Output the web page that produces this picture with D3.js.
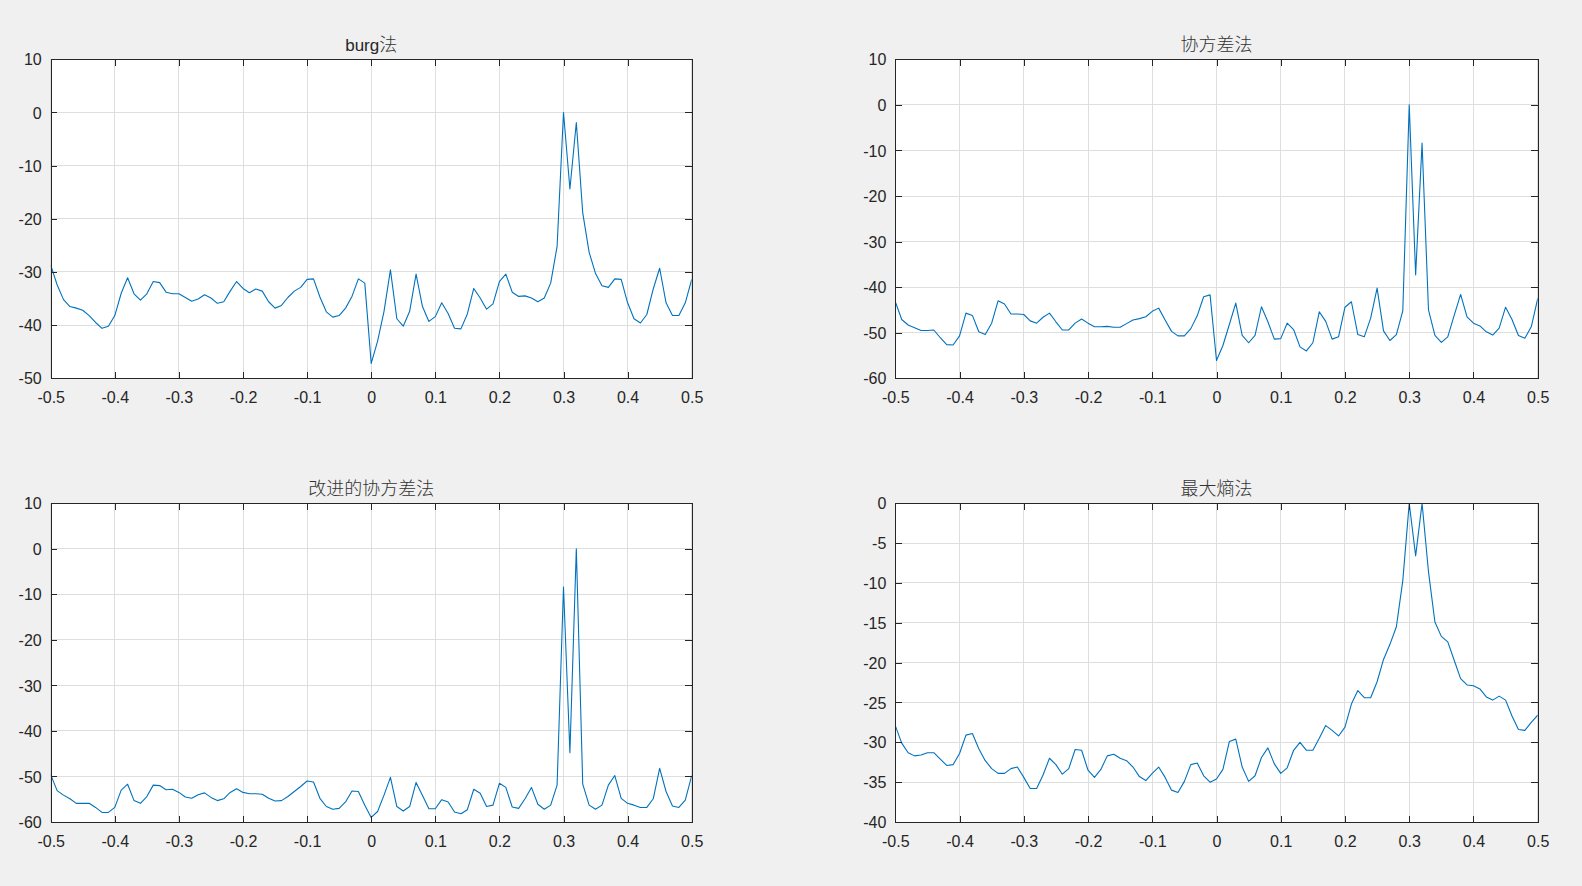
<!DOCTYPE html>
<html>
<head>
<meta charset="utf-8">
<script src="https://cdn.jsdelivr.net/npm/d3@7/dist/d3.min.js"></script>
<style>
html,body{margin:0;padding:0;background:#f0f0f0;}
svg{display:block;}
</style>
</head>
<body>
<svg id="chart" width="1582" height="886"></svg>
<script>
// ---------- data ----------
const freq = [-0.5,-0.49,-0.48,-0.47,-0.46,-0.45,-0.44,-0.43,-0.42,-0.41,
  -0.4,-0.39,-0.38,-0.37,-0.36,-0.35,-0.34,-0.33,-0.32,-0.31,
  -0.3,-0.29,-0.28,-0.27,-0.26,-0.25,-0.24,-0.23,-0.22,-0.21,
  -0.2,-0.19,-0.18,-0.17,-0.16,-0.15,-0.14,-0.13,-0.12,-0.11,
  -0.1,-0.09,-0.08,-0.07,-0.06,-0.05,-0.04,-0.03,-0.02,-0.01,
  0,0.01,0.02,0.03,0.04,0.05,0.06,0.07,0.08,0.09,
  0.1,0.11,0.12,0.13,0.14,0.15,0.16,0.17,0.18,0.19,
  0.2,0.21,0.22,0.23,0.24,0.25,0.26,0.27,0.28,0.29,
  0.3,0.31,0.32,0.33,0.34,0.35,0.36,0.37,0.38,0.39,
  0.4,0.41,0.42,0.43,0.44,0.45,0.46,0.47,0.48,0.49,0.5];

const burg = [-28.7,-32.4,-35.2,-36.5,-36.8,-37.2,-38.2,-39.5,-40.6,-40.2,
  -38.2,-34,-31.1,-34.1,-35.3,-34.1,-31.8,-32,-33.8,-34.1,
  -34.1,-34.8,-35.5,-35.1,-34.3,-34.9,-35.9,-35.6,-33.6,-31.8,
  -33.1,-33.9,-33.2,-33.6,-35.6,-36.8,-36.3,-34.8,-33.6,-32.9,
  -31.4,-31.3,-34.7,-37.5,-38.5,-38.2,-36.8,-34.6,-31.3,-32.1,
  -47.2,-43,-37.4,-29.6,-38.8,-40.2,-37.4,-30.4,-36.5,-39.3,
  -38.4,-35.8,-37.8,-40.6,-40.7,-37.9,-33.1,-34.9,-37,-36,
  -31.8,-30.4,-33.8,-34.6,-34.5,-34.9,-35.6,-34.9,-32.1,-25.2,
  0,-14.4,-1.9,-18.9,-26.3,-30.3,-32.6,-32.9,-31.3,-31.4,
  -35.8,-38.8,-39.6,-38,-33.2,-29.3,-35.8,-38.2,-38.2,-35.8,-31.4];

const cov = [-43.2,-47.1,-48.3,-48.9,-49.5,-49.5,-49.4,-51.1,-52.6,-52.7,
  -50.7,-45.7,-46.2,-49.8,-50.4,-47.9,-43,-43.7,-45.9,-45.9,
  -46,-47.4,-47.9,-46.6,-45.7,-47.6,-49.4,-49.4,-47.9,-47,
  -47.9,-48.7,-48.7,-48.6,-48.8,-48.8,-48,-47.2,-46.9,-46.5,
  -45.3,-44.6,-47.2,-49.7,-50.7,-50.7,-49.1,-46.3,-42.1,-41.7,
  -56.1,-52.8,-48.2,-43.5,-50.6,-52.2,-50.6,-44.3,-47.6,-51.4,
  -51.3,-47.9,-49.3,-53.1,-54,-52.2,-45.4,-47.5,-51.4,-50.9,
  -44.4,-43.2,-50.4,-50.9,-46.8,-40.2,-49.6,-51.7,-50.4,-45.2,
  0,-37.3,-8.4,-45,-50.6,-52.1,-50.9,-46.2,-41.6,-46.5,
  -47.9,-48.5,-49.8,-50.5,-49,-44.4,-47.1,-50.6,-51.2,-48.7,-42.5];

const mcov = [-49.6,-53.1,-54.1,-54.9,-55.9,-55.9,-55.9,-56.8,-57.9,-57.9,
  -56.8,-53,-51.7,-55.3,-55.9,-54.4,-51.9,-52,-52.9,-52.8,
  -53.5,-54.5,-54.8,-54,-53.6,-54.6,-55.3,-54.9,-53.5,-52.7,
  -53.5,-53.8,-53.8,-53.9,-54.8,-55.4,-55.3,-54.4,-53.3,-52.2,
  -51,-51.2,-54.8,-56.6,-57.2,-57,-55.6,-53.2,-53.3,-56.3,
  -59,-57.7,-54.1,-50.2,-56.6,-57.6,-56.6,-51.3,-54.2,-57.1,
  -57.1,-55.1,-55.6,-57.8,-58.2,-57.3,-52.8,-53.7,-56.6,-56.3,
  -51.5,-52.4,-56.7,-57,-54.9,-52.4,-56.1,-57.2,-56.3,-51.9,
  -8.4,-44.8,0,-51.7,-56.3,-57.2,-56.3,-51.9,-49.8,-54.8,
  -55.9,-56.3,-56.8,-56.8,-54.9,-48.2,-53.3,-56.5,-56.8,-55.2,-49.8];

const maxent = [-27.9,-30.1,-31.3,-31.7,-31.6,-31.3,-31.3,-32.1,-32.9,-32.8,
  -31.4,-29.1,-28.9,-30.8,-32.3,-33.3,-33.9,-33.9,-33.3,-33.1,
  -34.4,-35.8,-35.8,-34.1,-32,-32.8,-34,-33.3,-30.9,-31,
  -33.5,-34.4,-33.4,-31.7,-31.5,-32,-32.3,-33.1,-34.3,-34.8,
  -33.9,-33.1,-34.4,-36,-36.3,-34.9,-32.8,-32.6,-34.2,-35,
  -34.6,-33.4,-29.9,-29.6,-33.1,-34.9,-34.2,-31.9,-30.7,-32.7,
  -33.9,-33.2,-31,-30,-31,-31,-29.5,-27.9,-28.5,-29.2,
  -28.1,-25.2,-23.5,-24.4,-24.4,-22.4,-19.6,-17.7,-15.5,-9.7,
  0,-6.6,0,-8.6,-14.9,-16.7,-17.4,-19.7,-22,-22.8,
  -22.9,-23.3,-24.3,-24.7,-24.2,-24.7,-26.7,-28.4,-28.5,-27.5,-26.6];

const titles = ["burg法", "协方差法", "改进的协方差法", "最大熵法"];
const xTicks = [-0.5,-0.4,-0.3,-0.2,-0.1,0,0.1,0.2,0.3,0.4,0.5];
const yTicksA = [-50,-40,-30,-20,-10,0,10];
const yTicksB = [-60,-50,-40,-30,-20,-10,0,10];
const yTicksC = [-40,-35,-30,-25,-20,-15,-10,-5,0];

// ---------- layout ----------
const svg = d3.select("#chart");
const AX = "#262626", GRID = "#dedede", LINE = "#0072bd";
const panels = [
  {x0:50.7,  x1:691.7,  y0:59.3,  y1:378.3, ydom:[-50,10], yt:yTicksA, data:burg,   title:titles[0]},
  {x0:895.3, x1:1537.7, y0:59.3,  y1:378.3, ydom:[-60,10], yt:yTicksB, data:cov,    title:titles[1]},
  {x0:50.7,  x1:691.7,  y0:503.3, y1:822,   ydom:[-60,10], yt:yTicksB, data:mcov,   title:titles[2]},
  {x0:895.3, x1:1537.7, y0:503.3, y1:822,   ydom:[-40,0],  yt:yTicksC, data:maxent, title:titles[3]}
];
const fmt = d => d === 0 ? "0" : String(d);
const FONT = "'Liberation Sans', Arial, 'Noto Sans CJK SC', sans-serif";

panels.forEach((p, i) => {
  const x = d3.scaleLinear().domain([-0.5, 0.5]).range([p.x0, p.x1]);
  const y = d3.scaleLinear().domain(p.ydom).range([p.y1, p.y0]);
  const g = svg.append("g");
  const tl = 6.4;

  g.append("rect").attr("x", p.x0).attr("y", p.y0)
    .attr("width", p.x1 - p.x0).attr("height", p.y1 - p.y0).attr("fill", "#fff");

  // grid
  g.append("g").selectAll("line").data(xTicks).join("line")
    .attr("x1", d => x(d)).attr("x2", d => x(d)).attr("y1", p.y0).attr("y2", p.y1)
    .attr("stroke", GRID).attr("stroke-width", 1).attr("shape-rendering", "crispEdges");
  g.append("g").selectAll("line").data(p.yt).join("line")
    .attr("y1", d => y(d)).attr("y2", d => y(d)).attr("x1", p.x0).attr("x2", p.x1)
    .attr("stroke", GRID).attr("stroke-width", 1).attr("shape-rendering", "crispEdges");

  // data line
  const cid = "clip" + i;
  svg.append("clipPath").attr("id", cid).append("rect")
    .attr("x", p.x0).attr("y", p.y0 - 1).attr("width", p.x1 - p.x0).attr("height", p.y1 - p.y0 + 2);
  g.append("path").datum(p.data)
    .attr("clip-path", `url(#${cid})`)
    .attr("fill", "none").attr("stroke", LINE).attr("stroke-width", 1.1)
    .attr("stroke-linejoin", "round")
    .attr("d", d3.line().x((d, k) => x(freq[k])).y(d => y(d)));

  // axes
  const styleAxis = sel => {
    sel.selectAll("path.domain").attr("stroke", AX).attr("shape-rendering", "crispEdges");
    sel.selectAll(".tick line").attr("stroke", AX).attr("shape-rendering", "crispEdges");
    sel.selectAll("text").attr("fill", AX).style("font-family", FONT).style("font-size", "16px");
  };
  g.append("g").attr("transform", `translate(0,${p.y1})`)
    .call(d3.axisBottom(x).tickValues(xTicks).tickFormat(fmt).tickSizeInner(-tl).tickSizeOuter(0).tickPadding(13.2))
    .call(styleAxis);
  g.append("g").attr("transform", `translate(0,${p.y0})`)
    .call(d3.axisTop(x).tickValues(xTicks).tickFormat("").tickSizeInner(-tl).tickSizeOuter(0))
    .call(styleAxis);
  const ly = g.append("g").attr("transform", `translate(${p.x0},0)`)
    .call(d3.axisLeft(y).tickValues(p.yt).tickFormat(fmt).tickSizeInner(-tl).tickSizeOuter(0).tickPadding(9))
    .call(styleAxis);
  ly.selectAll("text").attr("dy", "0.35em");
  g.append("g").attr("transform", `translate(${p.x1},0)`)
    .call(d3.axisRight(y).tickValues(p.yt).tickFormat("").tickSizeInner(-tl).tickSizeOuter(0))
    .call(styleAxis);
  g.selectAll(".domain").attr("fill", "none");

  // title: Latin in Arial-like font, CJK in a CJK font
  const t = g.append("text")
    .attr("x", (p.x0 + p.x1) / 2).attr("y", p.y0 - 8)
    .attr("text-anchor", "middle").attr("fill", AX)
    .style("font-family", FONT);
  const runs = p.title.match(/[\u3400-\u9fff]+|[^\u3400-\u9fff]+/g);
  runs.forEach(r => {
    const cjk = /[\u3400-\u9fff]/.test(r);
    t.append("tspan").text(r)
      .style("font-size", cjk ? "18px" : "17px")
      .style("font-family", cjk ? "'Noto Sans CJK SC', sans-serif" : FONT)
      .style("font-weight", cjk ? 300 : 400)
      .attr("fill", cjk ? "#333" : AX);
  });
});
</script>
</body>
</html>
